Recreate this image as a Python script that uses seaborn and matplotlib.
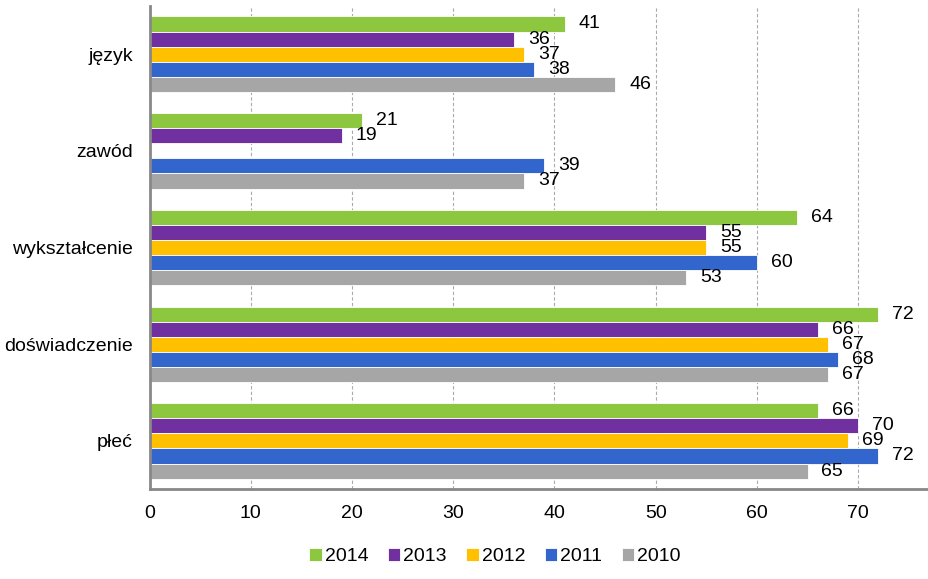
import pandas as pd
import numpy as np
import seaborn as sns
import matplotlib.pyplot as plt

categories = ["język", "zawód", "wykształcenie", "doświadczenie", "płeć"]
years = ["2014", "2013", "2012", "2011", "2010"]
v2014 = [41, 21, 64, 72, 66]
v2013 = [36, 19, 55, 66, 70]
v2012 = [37, np.nan, 55, 67, 69]
v2011 = [38, 39, 60, 68, 72]
v2010 = [46, 37, 53, 67, 65]
colors = ["#8DC63F", "#7030A0", "#FFC000", "#3366CC", "#A6A6A6"]

rows = []
for year, vals in zip(years, [v2014, v2013, v2012, v2011, v2010]):
    for cat, v in zip(categories, vals):
        rows.append({"kategoria": cat, "rok": year, "wartosc": v})
df = pd.DataFrame(rows)

sns.set_style("white")
plt.rcParams["font.family"] = ["Liberation Sans", "DejaVu Sans"]
plt.rcParams["text.color"] = "black"
plt.rcParams["xtick.color"] = "black"
plt.rcParams["ytick.color"] = "black"

fig, ax = plt.subplots(figsize=(9.29, 5.79), dpi=100)
fig.subplots_adjust(left=0.161, right=1.0, top=0.99, bottom=0.155)

sns.barplot(data=df, y="kategoria", x="wartosc", hue="rok", order=categories,
            hue_order=years, palette=colors, saturation=1, orient="h", width=0.78,
            edgecolor="white", linewidth=0.6, errorbar=None, ax=ax)

# podpisy wartości (pomijamy brakujące)
for cont in ax.containers:
    labels = []
    for bar in cont:
        w = bar.get_width()
        labels.append("" if np.isnan(w) else f"{w:.0f}")
    ax.bar_label(cont, labels=labels, padding=10, fontsize=14)

ax.set_xlim(0, 77)
ax.set_xticks(range(0, 80, 10))
ax.set_xlabel("")
ax.set_ylabel("")
ax.tick_params(axis="both", length=0, labelsize=14)
ax.tick_params(axis="x", pad=11)
ax.tick_params(axis="y", pad=12)
ax.xaxis.grid(True, linestyle=(0, (3, 2)), color="#AAAAAA", linewidth=0.8)
ax.set_axisbelow(True)
for s in ["top", "right"]:
    ax.spines[s].set_visible(False)
for s in ["left", "bottom"]:
    ax.spines[s].set_color("#888888")
    ax.spines[s].set_linewidth(2)

ax.legend(loc="upper center", bbox_to_anchor=(0.443, -0.085), ncol=5, frameon=False,
          fontsize=14, handlelength=0.65, handleheight=0.65, handletextpad=0.15,
          columnspacing=1.0)

fig.savefig("out.png", dpi=100)
